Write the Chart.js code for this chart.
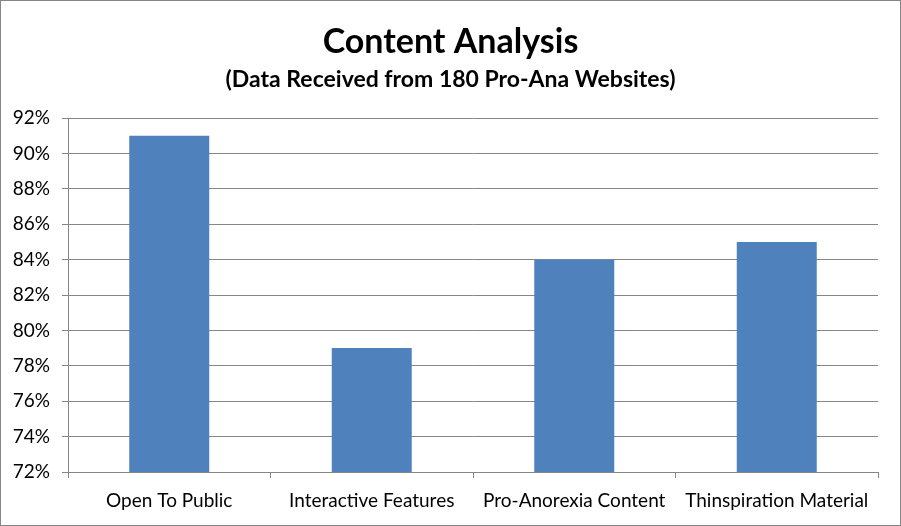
<!DOCTYPE html>
<html>
<head>
<meta charset="utf-8">
<script src="https://cdn.jsdelivr.net/npm/chart.js@4/dist/chart.umd.min.js"></script>
<style>
  html, body { margin: 0; padding: 0; background: #fff; }
  #wrap { width: 901px; height: 526px; }
</style>
</head>
<body>
<div id="wrap"><canvas id="contentChart" width="901" height="526"></canvas></div>
<script>
const categories = ['Open To Public', 'Interactive Features', 'Pro-Anorexia Content', 'Thinspiration Material'];
const percentages = [91, 79, 84, 85];
const yMin = 72;
const yMax = 92;
const yStep = 2;

const lineGray = '#868686';
const fontFamily = 'Lato, "Open Sans", sans-serif';

// thin gray frame around the whole chart
const framePlugin = {
    id: 'frame',
    afterDraw(chart) {
        const c = chart.ctx;
        c.save();
        c.strokeStyle = lineGray;
        c.lineWidth = 1;
        c.strokeRect(0.5, 0.5, chart.width - 1, chart.height - 1);
        c.restore();
    }
};

document.addEventListener('DOMContentLoaded', () => {
    const ctx = document.getElementById('contentChart').getContext('2d');
    new Chart(ctx, {
        type: 'bar',
        data: {
            labels: categories,
            datasets: [{
                label: 'Content',
                data: percentages,
                backgroundColor: '#4F81BD',
                borderWidth: 0,
                categoryPercentage: 1,
                barPercentage: 0.395
            }]
        },
        options: {
            responsive: false,
            animation: false,
            devicePixelRatio: 1,
            layout: { padding: 0 },
            plugins: {
                legend: { display: false },
                tooltip: { enabled: false },
                title: {
                    display: true,
                    text: 'Content Analysis',
                    color: '#000',
                    font: { family: fontFamily, size: 34, weight: 'bold', lineHeight: 1 },
                    padding: { top: 25, bottom: 0 }
                },
                subtitle: {
                    display: true,
                    text: '(Data Received from 180 Pro-Ana Websites)',
                    color: '#000',
                    font: { family: fontFamily, size: 23, weight: 'bold', lineHeight: 1 },
                    padding: { top: 9, bottom: 27 }
                }
            },
            scales: {
                x: {
                    grid: { drawOnChartArea: false, drawTicks: true, tickLength: 6, color: lineGray, offset: true },
                    border: { color: lineGray },
                    ticks: { color: '#000', padding: 11, font: { family: fontFamily, size: 19 } },
                    afterFit(scale) { scale.height = 54; }
                },
                y: {
                    min: yMin,
                    max: yMax,
                    grid: { color: lineGray, tickLength: 6 },
                    border: { color: lineGray },
                    ticks: {
                        stepSize: yStep,
                        color: '#000',
                        padding: 12,
                        font: { family: fontFamily, size: 19 },
                        callback: (v) => v + '%'
                    },
                    afterFit(scale) { scale.width = 68; }
                },
                // empty spacer on the right so the titles stay centred on the full width
                spacer: {
                    type: 'linear',
                    position: 'right',
                    min: yMin,
                    max: yMax,
                    grid: { display: false },
                    border: { display: false },
                    ticks: { display: false },
                    afterFit(scale) { scale.width = 23; }
                }
            }
        },
        plugins: [framePlugin]
    });
});
</script>
</body>
</html>
